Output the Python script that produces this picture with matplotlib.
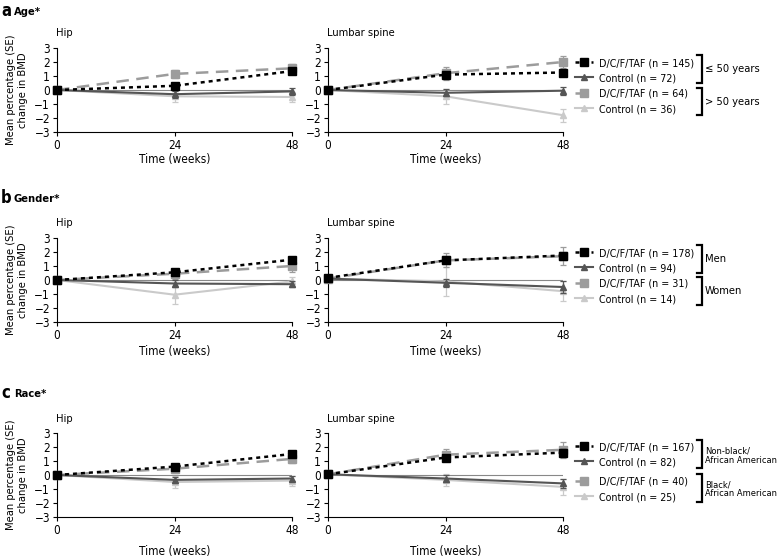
"""BMD change by subgroup: hip and lumbar spine panels
"""
import matplotlib
matplotlib.use("Agg")
import matplotlib.pyplot as plt
from matplotlib.legend import Legend

plt.rcParams['font.family'] = ['DejaVu Sans']
plt.rcParams['font.stretch'] = 'condensed'
plt.rcParams['font.size'] = 8

weeks = [0, 24, 48]

# order of series in every panel: D/C/F/TAF grp1, Control grp1, D/C/F/TAF grp2, Control grp2
age_hip_mean = [[0, 0.3, 1.35], [0, -0.3, -0.1], [0, 1.15, 1.55], [0, -0.45, -0.5]]
age_hip_se = [[0, 0.15, 0.15], [0, 0.25, 0.25], [0, 0.3, 0.3], [0, 0.4, 0.35]]
age_spine_mean = [[0, 1.1, 1.25], [0, -0.2, -0.05], [0, 1.2, 2.0], [0, -0.45, -1.8]]
age_spine_se = [[0, 0.2, 0.2], [0, 0.25, 0.3], [0, 0.45, 0.45], [0, 0.55, 0.45]]

gender_hip_mean = [[0, 0.55, 1.45], [0, -0.25, -0.3], [0, 0.45, 1.0], [0, -1.05, -0.1]]
gender_hip_se = [[0, 0.15, 0.1], [0, 0.25, 0.2], [0, 0.35, 0.4], [0, 0.65, 0.3]]
gender_spine_mean = [[0.15, 1.4, 1.75], [0.1, -0.2, -0.5], [0.1, 1.4, 1.7], [0.1, -0.1, -0.8]]
gender_spine_se = [[0, 0.2, 0.2], [0, 0.3, 0.45], [0, 0.5, 0.65], [0, 1.05, 0.7]]

race_hip_mean = [[0, 0.6, 1.5], [0, -0.35, -0.25], [0, 0.45, 1.15], [0, -0.5, -0.4]]
race_hip_se = [[0, 0.2, 0.15], [0, 0.2, 0.2], [0, 0.3, 0.3], [0, 0.4, 0.35]]
race_spine_mean = [[0.05, 1.25, 1.6], [0.05, -0.25, -0.6], [0.05, 1.45, 1.8], [0.05, -0.35, -0.85]]
race_spine_se = [[0, 0.2, 0.25], [0, 0.25, 0.3], [0, 0.4, 0.55], [0, 0.4, 0.55]]

row_letters = ["a", "b", "c"]
row_titles = ["Age*", "Gender*", "Race*"]
legend_labels = [
    ["D/C/F/TAF (n = 145)", "Control (n = 72)", "D/C/F/TAF (n = 64)", "Control (n = 36)"],
    ["D/C/F/TAF (n = 178)", "Control (n = 94)", "D/C/F/TAF (n = 31)", "Control (n = 14)"],
    ["D/C/F/TAF (n = 167)", "Control (n = 82)", "D/C/F/TAF (n = 40)", "Control (n = 25)"],
]
group_labels = [
    ["\u2264 50 years", "> 50 years"],
    ["Men", "Women"],
    ["Non-black/\nAfrican American", "Black/\nAfrican American"],
]

rows = [
    (age_hip_mean, age_hip_se, age_spine_mean, age_spine_se),
    (gender_hip_mean, gender_hip_se, gender_spine_mean, gender_spine_se),
    (race_hip_mean, race_hip_se, race_spine_mean, race_spine_se),
]

styles = [
    dict(color="black", ls=(0, (1.6, 1.6)), marker="s", ms=5.5, lw=1.8),
    dict(color="#555555", ls="-", marker="^", ms=5, lw=1.5),
    dict(color="#9c9c9c", ls=(0, (5, 3)), marker="s", ms=5.5, lw=1.8),
    dict(color="#cacaca", ls="-", marker="^", ms=5, lw=1.5),
]

W, H = 777, 558
fig = plt.figure(figsize=(W / 100, H / 100), dpi=100)

# layout in pixels
ax_lefts = [57, 328]
ax_width = 235
ax_tops = [48, 238, 433]
ax_height = 84
title_y = [11, 198, 393]
sub_y = [33, 223, 419]
xlabel_y = [160, 352, 551]
pair_centers = [[63, 94], [253, 284], [447, 482]]
brackets = [[(55, 83), (88, 115)], [(245, 273), (277, 305)], [(440, 468), (474, 502)]]
group_y = [[69, 102], [259, 291], [456, 489]]
group_size = [8, 8, 6.7]

ov = fig.add_axes([0, 0, 1, 1])
ov.set_xlim(0, W)
ov.set_ylim(H, 0)
ov.axis("off")

for r, (hm, hs, sm, ss) in enumerate(rows):
    top = ax_tops[r]
    handles = []
    for c, (means, ses, name) in enumerate([(hm, hs, "Hip"), (sm, ss, "Lumbar spine")]):
        ax = fig.add_axes([ax_lefts[c] / W, 1 - (top + ax_height) / H,
                           ax_width / W, ax_height / H])
        ax.axhline(0, color="#888888", lw=0.8, zorder=1)
        handles = []
        for i in reversed(range(4)):
            st = styles[i]
            cont = ax.errorbar(weeks, means[i], yerr=ses[i], color=st["color"],
                               ls=st["ls"], lw=st["lw"], marker=st["marker"],
                               ms=st["ms"], capsize=2, elinewidth=0.9,
                               capthick=0.9, zorder=2 + (4 - i))
            for art in cont.get_children():
                art.set_clip_on(False)
            handles.insert(0, cont[0])
        ax.set_xlim(0, 48)
        ax.set_ylim(-3, 3)
        ax.set_xticks(weeks)
        ax.set_yticks(range(-3, 4))
        ax.set_yticklabels([str(v).replace("-", "\u2212") for v in range(-3, 4)])
        ax.spines["top"].set_visible(False)
        ax.spines["right"].set_visible(False)
        ax.tick_params(direction="out", length=3, width=0.8, pad=2, labelsize=8.5)
        ax.patch.set_alpha(0)
        ov.text(ax_lefts[c] - 1, sub_y[r], name, ha="left", va="center", fontsize=8)
        ov.text(ax_lefts[c] + ax_width / 2, xlabel_y[r], "Time (weeks)",
                ha="center", va="center", fontsize=8.5)

    # y label
    ov.text(17, top + ax_height / 2, "Mean percentage (SE)\nchange in BMD",
            rotation=90, ha="center", va="center", fontsize=8, linespacing=1.15)

    # row title
    ov.text(1, title_y[r], row_letters[r], ha="left", va="center",
            fontsize=12, fontweight="bold")
    ov.text(14, title_y[r] + 1, row_titles[r], ha="left", va="center",
            fontsize=8, fontweight="bold")

    # legend, one block per subgroup pair
    for p in range(2):
        leg = Legend(ov, handles[2 * p:2 * p + 2], legend_labels[r][2 * p:2 * p + 2],
                     loc="upper left", bbox_to_anchor=(575, pair_centers[r][p] - 5),
                     bbox_transform=ov.transData, frameon=False, numpoints=1,
                     handlelength=1.7, handletextpad=0.5, labelspacing=0.47,
                     borderpad=0, borderaxespad=0, fontsize=7.7)
        ov.add_artist(leg)

    for (y0, y1), gy, gl in zip(brackets[r], group_y[r], group_labels[r]):
        ov.plot([697, 702, 702, 697], [y0, y0, y1, y1], color="black", lw=1.6,
                solid_joinstyle="miter")
        ov.text(705, gy, gl, ha="left", va="center", fontsize=group_size[r],
                linespacing=1.0)

fig.savefig("out.png", dpi=100)
